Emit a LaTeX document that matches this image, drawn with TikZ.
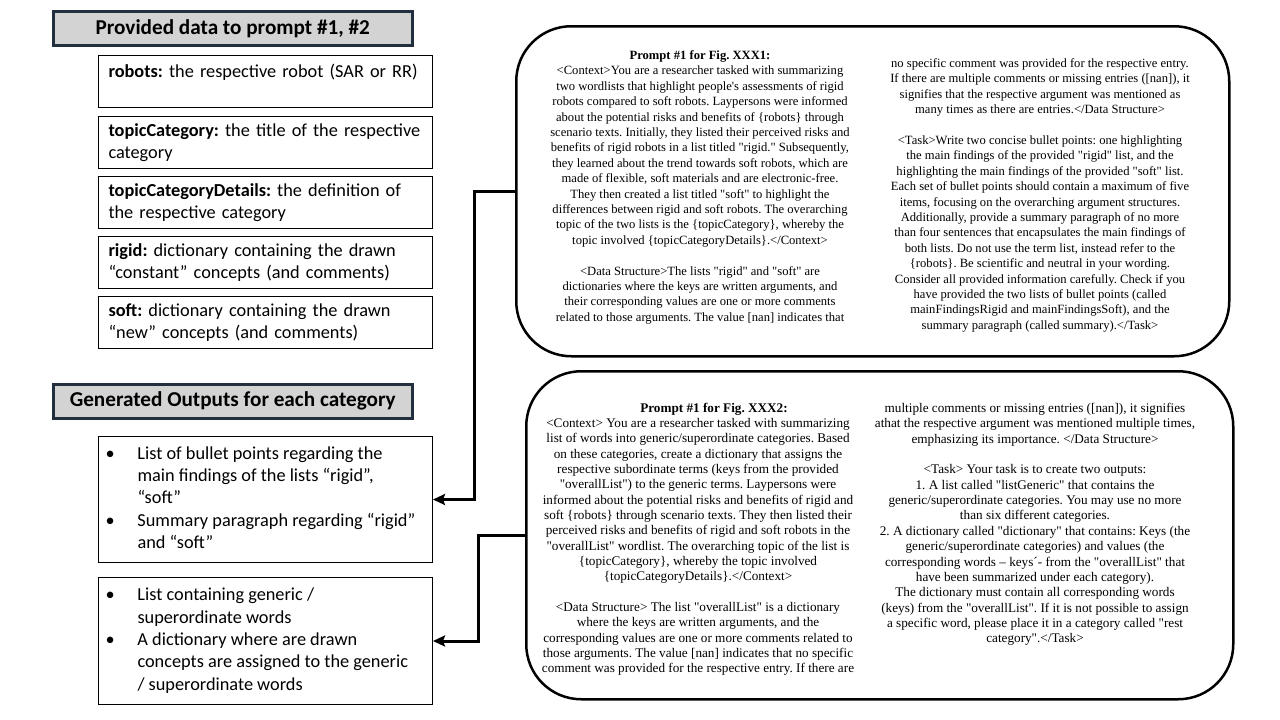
\documentclass[tikz,border=0pt]{standalone}
\usepackage{fontspec}
\setmainfont{Liberation Serif}[Ligatures=TeXOff]
\newfontfamily\calibri{Carlito}
\usetikzlibrary{arrows.meta}
\definecolor{hdrgray}{RGB}{211,211,211}
\definecolor{hdrline}{RGB}{34,47,62}
\frenchspacing
\begin{document}
\begin{tikzpicture}[x=1pt,y=-1pt,
hdr/.style={draw=hdrline,line width=2.5pt,fill=hdrgray,minimum width=359pt,minimum height=34pt,anchor=north west,inner sep=0pt,font=\calibri\bfseries\fontsize{21.2}{25}\selectfont},
databox/.style={draw=black,line width=1pt,anchor=north west,text width=314pt,inner xsep=10pt,inner ysep=0pt,minimum height=52pt,align=left,font=\calibri\fontsize{18.3}{22.3}\selectfont},
outbox/.style={draw=black,line width=1pt,anchor=north west,inner xsep=7pt,inner ysep=0pt,minimum width=334pt,font=\calibri\fontsize{18.3}{22.4}\selectfont},
prbox/.style={draw,line width=2.5pt,rounded corners=55pt,anchor=north west,inner sep=0pt},
prtext/.style={anchor=north,align=center,inner sep=0pt,font=\fontsize{12.6}{15.4}\selectfont},
prtextb/.style={prtext,font=\fontsize{13.2}{15.35}\selectfont},
conn/.style={line width=3pt,-{Stealth[length=12pt,width=11pt,inset=2pt]}}]
\useasboundingbox (0,0) rectangle (1280,720);
\node[hdr] (hdrData) at (52,10) {Provided data to prompt \#1, \#2};
\node[databox] (dRobots) at (98,55) {\mbox{\textbf{robots:} the respective robot (SAR or RR)}\\ \mbox{}};
\node[databox] (dTopic) at (98,116) {\mbox{\textbf{topicCategory:} the title of the respective}\\category};
\node[databox] (dDetails) at (98,176) {\mbox{\textbf{topicCategoryDetails:} the definition of}\\the respective category};
\node[databox] (dRigid) at (98,236) {\mbox{\textbf{rigid:} dictionary containing the drawn}\\\mbox{“constant” concepts (and comments)}};
\node[databox] (dSoft) at (98,296) {\mbox{\textbf{soft:} dictionary containing the drawn}\\\mbox{“new” concepts (and comments)}};
\node[hdr] (hdrOut) at (52,383) {Generated Outputs for each category};
\node[outbox,minimum height=126pt] (out1) at (98,436) {\begin{tabular}{@{}p{32pt}@{}p{288pt}@{}}
• & List of bullet points regarding the\newline main findings of the lists “rigid”,\newline “soft”\\
• & Summary paragraph regarding “rigid”\newline and “soft”
\end{tabular}};
\node[outbox,minimum height=127pt] (out2) at (98,577) {\begin{tabular}{@{}p{32pt}@{}p{288pt}@{}}
• & List containing generic /\newline superordinate words\\
• & A dictionary where are drawn\newline concepts are assigned to the generic\newline / superordinate words
\end{tabular}};
\node[prbox,minimum width=713pt,minimum height=330pt] (pr1) at (515,25) {};
\node[prbox,minimum width=707pt,minimum height=328pt] (pr2) at (525,370) {};
\node[prtext] (pr1ctx) at (700,50.5) {\textbf{Prompt \#1 for Fig. XXX1:}\\
<Context>You are a researcher tasked with summarizing\\
two wordlists that highlight people's assessments of rigid\\
robots compared to soft robots. Laypersons were informed\\
about the potential risks and benefits of \{robots\} through\\
scenario texts. Initially, they listed their perceived risks and\\
benefits of rigid robots in a list titled "rigid." Subsequently,\\
they learned about the trend towards soft robots, which are\\
made of flexible, soft materials and are electronic-free.\\
They then created a list titled "soft" to highlight the\\
differences between rigid and soft robots. The overarching\\
topic of the two lists is the \{topicCategory\}, whereby the\\
topic involved \{topicCategoryDetails\}.</Context>\\[15.4pt]
<Data Structure>The lists "rigid" and "soft" are\\
dictionaries where the keys are written arguments, and\\
their corresponding values are one or more comments\\
related to those arguments. The value [nan] indicates that};
\node[prtext] (pr1task) at (1040,58.5) {no specific comment was provided for the respective entry.\\
If there are multiple comments or missing entries ([nan]), it\\
signifies that the respective argument was mentioned as\\
many times as there are entries.</Data Structure>\\[15.4pt]
<Task>Write two concise bullet points: one highlighting\\
the main findings of the provided "rigid" list, and the\\
highlighting the main findings of the provided "soft" list.\\
Each set of bullet points should contain a maximum of five\\
items, focusing on the overarching argument structures.\\
Additionally, provide a summary paragraph of no more\\
than four sentences that encapsulates the main findings of\\
both lists. Do not use the term list, instead refer to the\\
\{robots\}. Be scientific and neutral in your wording.\\
Consider all provided information carefully. Check if you\\
have provided the two lists of bullet points (called\\
mainFindingsRigid and mainFindingsSoft), and the\\
summary paragraph (called summary).</Task>};
\node[prtextb] (pr2ctx) at (698,402.5) {\hspace*{32pt}\textbf{Prompt \#1 for Fig. XXX2:}\\
<Context> You are a researcher tasked with summarizing\\
list of words into generic/superordinate categories. Based\\
on these categories, create a dictionary that assigns the\\
respective subordinate terms (keys from the provided\\
"overallList") to the generic terms. Laypersons were\\
informed about the potential risks and benefits of rigid and\\
soft \{robots\} through scenario texts. They then listed their\\
perceived risks and benefits of rigid and soft robots in the\\
"overallList" wordlist. The overarching topic of the list is\\
\{topicCategory\}, whereby the topic involved\\
\{topicCategoryDetails\}.</Context>\\[15.35pt]
<Data Structure> The list "overallList" is a dictionary\\
where the keys are written arguments, and the\\
corresponding values are one or more comments related to\\
those arguments. The value [nan] indicates that no specific\\
comment was provided for the respective entry. If there are};
\node[prtextb] (pr2task) at (1035,403) {multiple comments or missing entries ([nan]), it signifies\\
athat the respective argument was mentioned multiple times,\\
emphasizing its importance. </Data Structure>\\[15.35pt]
<Task> Your task is to create two outputs:\\
1. A list called "listGeneric" that contains the\\
generic/superordinate categories. You may use no more\\
than six different categories.\\
2. A dictionary called "dictionary" that contains: Keys (the\\
generic/superordinate categories) and values (the\\
corresponding words – keys´- from the "overallList" that\\
have been summarized under each category).\\
The dictionary must contain all corresponding words\\
(keys) from the "overallList". If it is not possible to assign\\
a specific word, please place it in a category called "rest\\
category".</Task>};
\draw[conn] (pr1.west) -- ++(-41,0) |- (out1.east);
\draw[conn] (pr2.west) -- ++(-47,0) |- (out2.east);
\end{tikzpicture}
\end{document}
